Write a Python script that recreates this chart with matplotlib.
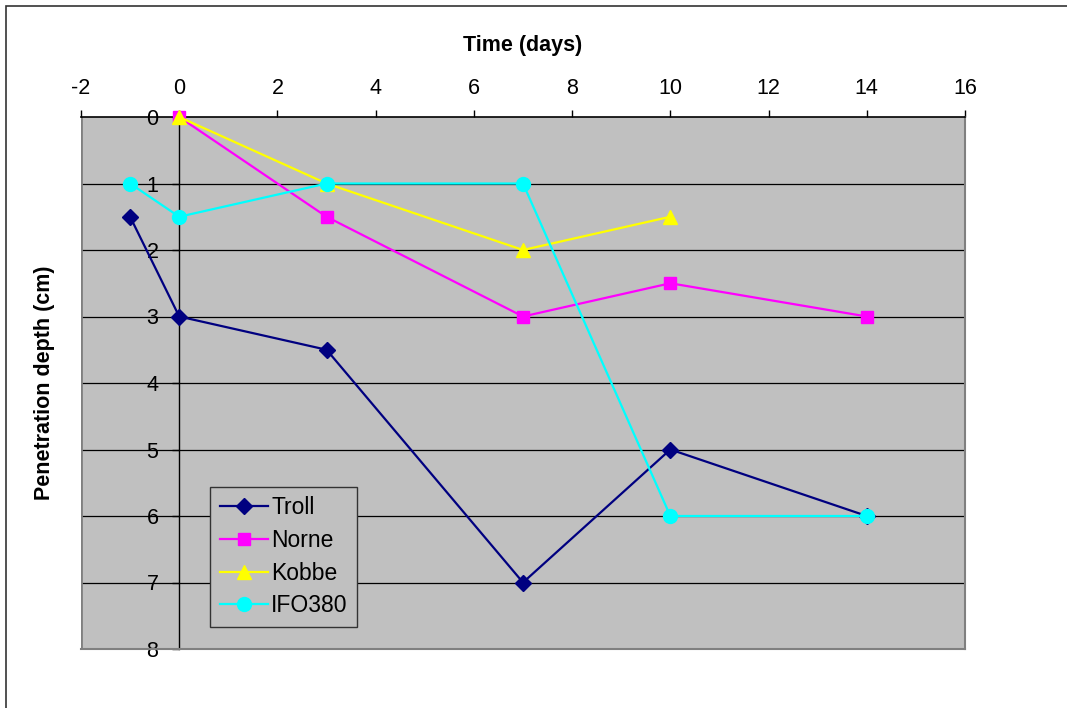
import matplotlib
matplotlib.use("Agg")
import matplotlib.pyplot as plt
from matplotlib.patches import Rectangle

plt.rcParams['font.family'] = ['Liberation Sans', 'DejaVu Sans']

# Penetration depth (cm) versus time (days) for each oil
troll_days = [-1, 0, 3, 7, 10, 14]
troll_depth = [1.5, 3, 3.5, 7, 5, 6]

norne_days = [0, 3, 7, 10, 14]
norne_depth = [0, 1.5, 3, 2.5, 3]

kobbe_days = [0, 3, 7, 10]
kobbe_depth = [0, 1, 2, 1.5]

ifo_days = [-1, 0, 3, 7, 10, 14]
ifo_depth = [1, 1.5, 1, 1, 6, 6]

x_ticks = [-2, 0, 2, 4, 6, 8, 10, 12, 14, 16]
y_ticks = [0, 1, 2, 3, 4, 5, 6, 7, 8]

W, H = 1067, 708
fig = plt.figure(figsize=(W / 100, H / 100), dpi=100)
fig.patch.set_facecolor('white')

# chart frame (top and left edges visible)
fig.patches.append(Rectangle((6 / W, -0.05), 1.2, (H - 6) / H + 0.05,
                             transform=fig.transFigure, fill=False,
                             edgecolor='#333333', linewidth=1.2))

ax = fig.add_axes([81 / W, 1 - 649 / H, (965 - 81) / W, (649 - 117) / H])
ax.set_facecolor('#C0C0C0')
ax.set_xlim(-2, 16)
ax.set_ylim(8, 0)

series = [
    (troll_days, troll_depth, 'Troll', '#000080', 'D', 8),
    (norne_days, norne_depth, 'Norne', '#FF00FF', 's', 8.5),
    (kobbe_days, kobbe_depth, 'Kobbe', '#FFFF00', '^', 10),
    (ifo_days, ifo_depth, 'IFO380', '#00FFFF', 'o', 10),
]
for xs, ys, name, col, mk, ms in series:
    ax.plot(xs, ys, color=col, linewidth=1.6, marker=mk, markersize=ms,
            markerfacecolor=col, markeredgecolor=col, label=name,
            zorder=3, clip_on=False)

# horizontal gridlines at the inner ticks
ax.hlines(y_ticks[1:-1], -2, 16, color='black', linewidth=0.9, zorder=1)

# x axis along the top
ax.xaxis.set_ticks_position('top')
ax.set_xticks(x_ticks)
ax.set_xticklabels([str(v) for v in x_ticks])
ax.tick_params(axis='x', direction='out', length=5, width=1, pad=8,
               labelsize=15.5, colors='black')

# y axis crossing at x = 0
ax.set_yticks(y_ticks)
ax.spines['left'].set_position(('data', 0))
ax.spines['left'].set_color('black')
ax.spines['left'].set_linewidth(1)
ax.tick_params(axis='y', direction='out', length=5, width=1, pad=10,
               labelsize=15.5)
ax.set_yticklabels([str(v) for v in y_ticks])
ax.spines['top'].set_color('black')
ax.spines['top'].set_linewidth(1.2)
for s in ('right', 'bottom'):
    ax.spines[s].set_color('#808080')
    ax.spines[s].set_linewidth(1.5)

# plot-area border on the left edge
ax.axvline(-2, color='#808080', linewidth=2, zorder=1)

fig.text(523 / W, 1 - 46 / H, 'Time (days)', ha='center', va='center',
         fontsize=15.5, fontweight='bold')
fig.text(45 / W, 1 - 383 / H, 'Penetration depth (cm)', ha='center',
         va='center', rotation=90, fontsize=15.5, fontweight='bold')

leg = ax.legend(loc='lower left', bbox_to_anchor=((210 - 81) / 884, (649 - 627) / 532),
                frameon=True, fancybox=False, fontsize=16.5, handlelength=2.1,
                handletextpad=0.15, borderpad=0.42, labelspacing=0.42,
                borderaxespad=0)
leg.get_frame().set_facecolor('#C0C0C0')
leg.get_frame().set_edgecolor('#333333')
leg.get_frame().set_linewidth(1)
leg.get_frame().set_alpha(1)
leg.set_zorder(5)

fig.savefig('out.png', dpi=100)
